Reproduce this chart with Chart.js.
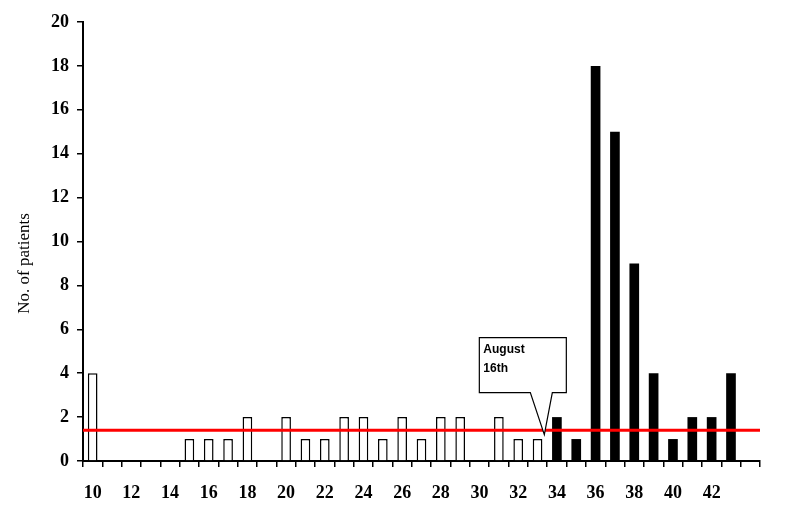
<!DOCTYPE html>
<html>
<head>
<meta charset="utf-8">
<script src="https://cdn.jsdelivr.net/npm/chart.js@4.4.1/dist/chart.umd.min.js"></script>
<style>
  html, body { margin: 0; padding: 0; background: #fff; }
  #wrap { width: 786px; height: 506px; position: relative; }
</style>
</head>
<body>
<div id="wrap"><canvas id="c"></canvas></div>
<script>
// ── DATA ────────────────────────────────────────────────────
const weeks    = [10, 11, 12, 13, 14, 15, 16, 17, 18, 19, 20, 21, 22, 23, 24, 25, 26,
                  27, 28, 29, 30, 31, 32, 33, 34, 35, 36, 37, 38, 39, 40, 41, 42, 43, 44];
const patients = [4, 0, 0, 0, 0, 1, 1, 1, 2, 0, 2, 1, 1, 2, 2, 1, 2,
                  1, 2, 2, 0, 2, 1, 1, 2, 1, 18, 15, 9, 4, 1, 2, 2, 4, 0];
const tickLabels = ['10', '', '12', '', '14', '', '16', '', '18', '', '20', '', '22', '', '24', '', '26',
                    '', '28', '', '30', '', '32', '', '34', '', '36', '', '38', '', '40', '', '42', '', ''];
const outbreakFrom = 34;      // black bars from this week on
const baseline = 1.4;         // red reference line
const calloutIndex = 23.35;   // "August 16th" pointer, between weeks 33 and 34
const calloutValue = 1.2;
const calloutText = ['August', '16th'];
const yTitle = 'No. of patients';

const serif = "'Liberation Serif', 'Times New Roman', serif";

// ── PLUGINS ─────────────────────────────────────────────────
const refLine = {
  id: 'refLine',
  afterDatasetsDraw(chart) {
    const { ctx, chartArea: a, scales: { x, y } } = chart;
    const py = y.getPixelForValue(baseline);
    ctx.save();
    ctx.beginPath(); ctx.moveTo(a.left, py); ctx.lineTo(a.right, py);
    ctx.strokeStyle = '#ff0000'; ctx.lineWidth = 3; ctx.stroke();

    // callout
    const tx = x.getPixelForValue(calloutIndex), ty = y.getPixelForValue(calloutValue);
    const L = tx - 65, R = tx + 22, T = ty - 97, B = ty - 42;
    ctx.beginPath();
    ctx.moveTo(L, T); ctx.lineTo(R, T); ctx.lineTo(R, B);
    ctx.lineTo(tx + 8, B); ctx.lineTo(tx, ty); ctx.lineTo(tx - 14, B);
    ctx.lineTo(L, B); ctx.closePath();
    ctx.fillStyle = '#fff'; ctx.fill();
    ctx.strokeStyle = '#000'; ctx.lineWidth = 1.2; ctx.stroke();
    ctx.fillStyle = '#000';
    ctx.font = "bold 12px 'Liberation Sans', Arial, sans-serif";
    ctx.textBaseline = 'middle';
    calloutText.forEach((t, i) => ctx.fillText(t, L + 4, T + 12 + i * 19));
    ctx.restore();
  },
  // axis title sits a little below the middle of the axis in the original
  afterDraw(chart) {
    const { ctx, chartArea: a } = chart;
    ctx.save();
    ctx.translate(25, a.top + (a.bottom - a.top) * 0.55);
    ctx.rotate(-Math.PI / 2);
    ctx.font = `17px ${serif}`;
    ctx.fillStyle = '#000';
    ctx.textAlign = 'center'; ctx.textBaseline = 'middle';
    ctx.fillText(yTitle, 0, 0);
    ctx.restore();
  }
};

// ── CHART ───────────────────────────────────────────────────
new Chart(document.getElementById('c'), {
  type: 'bar',
  data: {
    labels: weeks,
    datasets: [{
      data: patients,
      backgroundColor: c => weeks[c.dataIndex] >= outbreakFrom ? '#000' : '#fff',
      borderColor: '#000',
      borderWidth: c => weeks[c.dataIndex] >= outbreakFrom ? 0 : 1.5,
      borderSkipped: 'bottom',
      barPercentage: 0.5,
      categoryPercentage: 1
    }]
  },
  options: {
    responsive: true, maintainAspectRatio: false, animation: false,
    layout: { padding: { left: 10, right: 26, top: 22, bottom: 0 } },
    plugins: { legend: { display: false }, tooltip: { enabled: false } },
    scales: {
      x: {
        offset: true,
        grid: { offset: true, drawOnChartArea: false, drawTicks: true, tickLength: 6, color: '#000', lineWidth: 1.5 },
        border: { display: true, color: '#000', width: 2 },
        ticks: {
          autoSkip: false, maxRotation: 0, padding: 16, color: '#000',
          font: { family: serif, size: 18, weight: 'bold' },
          callback: (v, i) => tickLabels[i]
        },
        afterFit: s => { s.height = 45; }
      },
      y: {
        min: 0, max: 20,
        grid: { drawOnChartArea: false, drawTicks: true, tickLength: 6, color: '#000', lineWidth: 1.5 },
        border: { display: true, color: '#000', width: 2 },
        ticks: { stepSize: 2, padding: 8, color: '#000', font: { family: serif, size: 18, weight: 'bold' } },
        afterFit: s => { s.width = 73; }
      }
    }
  },
  plugins: [refLine]
});
</script>
</body>
</html>
